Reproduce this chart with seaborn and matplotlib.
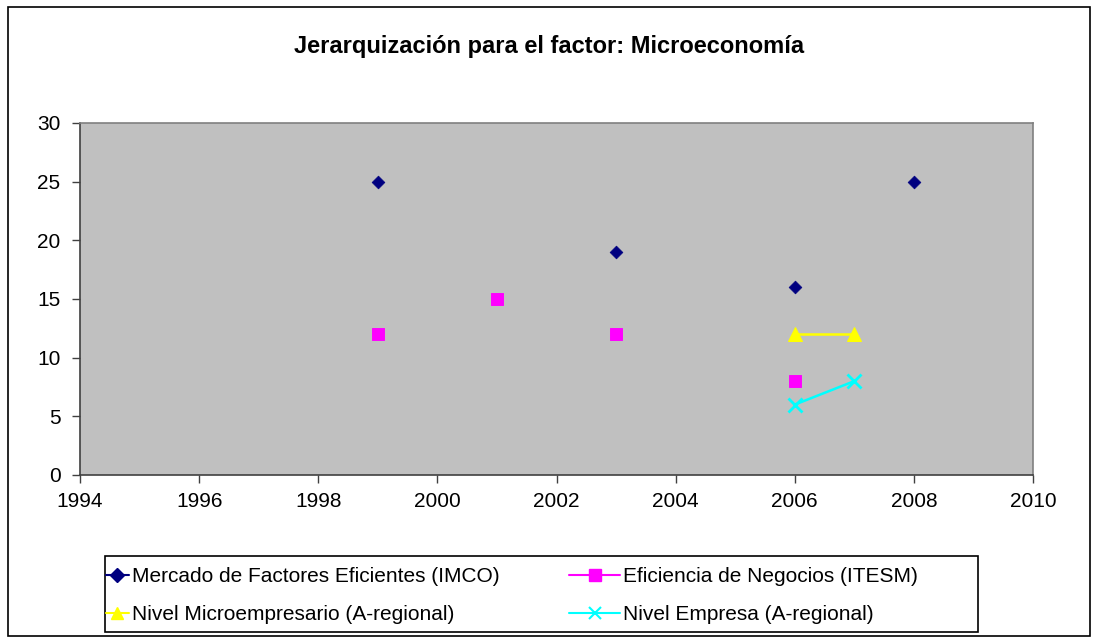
import matplotlib
matplotlib.use("Agg")
import matplotlib.pyplot as plt
import seaborn as sns
import pandas as pd
from matplotlib.patches import Rectangle

# datos
anios_imco = [1999, 2003, 2006, 2008]
valores_imco = [25, 19, 16, 25]
anios_itesm = [1999, 2001, 2003, 2006]
valores_itesm = [12, 15, 12, 8]
anios_micro = [2006, 2007]
valores_micro = [12, 12]
anios_empresa = [2006, 2007]
valores_empresa = [6, 8]

sns.set_style("white")
plt.rcParams['font.family'] = ['Liberation Sans', 'DejaVu Sans']
plt.rcParams['text.color'] = 'black'
plt.rcParams['xtick.color'] = 'black'
plt.rcParams['ytick.color'] = 'black'

fig = plt.figure(figsize=(10.98, 6.42), dpi=100)
ax = fig.add_axes([80 / 1098, 1 - 475 / 642, (1033 - 80) / 1098, (475 - 123) / 642])
ax.set_facecolor('#C0C0C0')

df_imco = pd.DataFrame({'Año': anios_imco, 'Valor': valores_imco})
df_itesm = pd.DataFrame({'Año': anios_itesm, 'Valor': valores_itesm})
df_micro = pd.DataFrame({'Año': anios_micro, 'Valor': valores_micro})
df_empresa = pd.DataFrame({'Año': anios_empresa, 'Valor': valores_empresa})

# series sin línea (huecos en los datos), sólo marcadores
sns.scatterplot(data=df_imco, x='Año', y='Valor', ax=ax, marker='D', s=42,
                color='#000080', edgecolor='#000080', zorder=3)
sns.scatterplot(data=df_itesm, x='Año', y='Valor', ax=ax, marker='s', s=70,
                color='#FF00FF', edgecolor='#FF00FF', zorder=3)
sns.lineplot(data=df_micro, x='Año', y='Valor', ax=ax, color='#FFFF00', lw=1.8,
             marker='^', markersize=10, markeredgecolor='#FFFF00', zorder=3)
sns.lineplot(data=df_empresa, x='Año', y='Valor', ax=ax, color='#00FFFF', lw=1.8,
             marker='x', markersize=10, markeredgewidth=2, markeredgecolor='#00FFFF', zorder=3)

ax.set_xlim(1994, 2010)
ax.set_ylim(0, 30)
ax.set_xticks(range(1994, 2011, 2))
ax.set_yticks(range(0, 31, 5))
ax.set_xlabel('')
ax.set_ylabel('')
ax.tick_params(axis='both', direction='out', length=6, width=1, color='#404040',
               labelsize=15, left=True, bottom=True, labelcolor='black')
ax.tick_params(axis='x', pad=6)
ax.tick_params(axis='y', pad=8)
for lado, sp in ax.spines.items():
    sp.set_color('#808080')
    sp.set_linewidth(1.2)
ax.spines['left'].set_color('#404040')
ax.spines['bottom'].set_color('#404040')

fig.text(0.5, 1 - 47 / 642, 'Jerarquización para el factor: Microeconomía',
         ha='center', va='center', fontsize=17, fontweight='bold', color='black')

# leyenda: dos columnas como en el original
fila_y = 1 - 595.5 / 642
h1 = [plt.Line2D([], [], color='#000080', marker='D', markersize=7, lw=1.5),
      plt.Line2D([], [], color='#FFFF00', marker='^', markersize=9, lw=1.5)]
e1 = ['Mercado de Factores Eficientes (IMCO)', 'Nivel Microempresario (A-regional)']
h2 = [plt.Line2D([], [], color='#FF00FF', marker='s', markersize=8, lw=1.5),
      plt.Line2D([], [], color='#00FFFF', marker='x', markersize=9, markeredgewidth=1.5, lw=1.5)]
e2 = ['Eficiencia de Negocios (ITESM)', 'Nivel Empresa (A-regional)']

for hs, es, x0, hl in [(h1, e1, 106, 1.1), (h2, e2, 569, 2.45)]:
    leg = fig.legend(hs, es, loc='center left', bbox_to_anchor=(x0 / 1098, fila_y),
                     fontsize=15, frameon=False, handlelength=hl, handletextpad=0.15,
                     borderaxespad=0, borderpad=0, labelspacing=0.9)
    for t in leg.get_texts():
        t.set_color('black')

fig.patches.append(Rectangle((105 / 1098, 1 - 632 / 642), (978 - 105) / 1098, (632 - 556) / 642,
                             transform=fig.transFigure, fill=False, edgecolor='black', lw=1.2))
fig.patches.append(Rectangle((8 / 1098, 1 - 636 / 642), (1090 - 8) / 1098, (636 - 7) / 642,
                             transform=fig.transFigure, fill=False, edgecolor='black', lw=1.2))

fig.savefig('out.png', dpi=100)
